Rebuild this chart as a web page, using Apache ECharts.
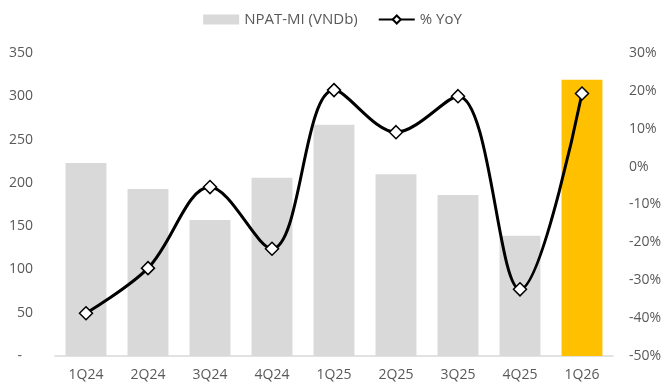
<!DOCTYPE html>
<html>
<head>
<meta charset="utf-8">
<script src="https://cdn.jsdelivr.net/npm/echarts@6/dist/echarts.min.js"></script>
<style>
  html, body { margin: 0; padding: 0; background: #fff; }
  #chart { width: 665px; height: 392px; }
</style>
</head>
<body>
<div id="chart"></div>
<script>
// Quarterly NPAT-MI (VND bn) with year-over-year growth
const quarters = ['1Q24', '2Q24', '3Q24', '4Q24', '1Q25', '2Q25', '3Q25', '4Q25', '1Q26'];
const npatMi = [223, 193, 157, 206, 267, 210, 186, 139, 319];
const yoyPct = [-38.7, -26.8, -5.4, -21.7, 20.2, 9.1, 18.6, -32.4, 19.3];
const leftTicks = { min: 0, max: 350, step: 50 };
const rightTicks = { min: -50, max: 30, step: 10 };

const FONT = 'Open Sans';
const LABEL_COLOR = '#595959';
const highlightIndex = quarters.length - 1;

const chart = echarts.init(document.getElementById('chart'), null, { renderer: 'canvas' });
chart.setOption({
  animation: false,
  textStyle: { fontFamily: FONT },
  legend: {
    top: 7,
    left: 'center',
    itemGap: 20,
    itemWidth: 36,
    itemHeight: 10,
    textStyle: { color: LABEL_COLOR, fontSize: 15, fontFamily: FONT },
    data: [
      { name: 'NPAT-MI (VNDb)', icon: 'rect' },
      { name: '% YoY' }
    ]
  },
  grid: { left: 55, right: 52, top: 53, bottom: 36, containLabel: false },
  xAxis: {
    type: 'category',
    data: quarters,
    axisLine: { lineStyle: { color: '#d9d9d9', width: 1.5 } },
    axisTick: { show: false },
    axisLabel: { color: LABEL_COLOR, fontSize: 14, margin: 12, fontFamily: FONT }
  },
  yAxis: [
    {
      type: 'value',
      min: leftTicks.min,
      max: leftTicks.max,
      interval: leftTicks.step,
      splitLine: { show: false },
      axisLine: { show: false },
      axisTick: { show: false },
      axisLabel: {
        color: LABEL_COLOR, fontSize: 14, margin: 22, fontFamily: FONT,
        formatter: v => (v === 0 ? '-   ' : String(v))
      }
    },
    {
      type: 'value',
      min: rightTicks.min,
      max: rightTicks.max,
      interval: rightTicks.step,
      splitLine: { show: false },
      axisLine: { show: false },
      axisTick: { show: false },
      axisLabel: {
        color: LABEL_COLOR, fontSize: 14, margin: 16, align: 'left', fontFamily: FONT,
        formatter: v => v + '%'
      }
    }
  ],
  series: [
    {
      name: 'NPAT-MI (VNDb)',
      type: 'bar',
      yAxisIndex: 0,
      barCategoryGap: '34%',
      itemStyle: { color: '#d9d9d9' },
      data: npatMi.map((v, i) => i === highlightIndex
        ? { value: v, itemStyle: { color: '#ffc000' } }
        : v)
    },
    {
      name: '% YoY',
      type: 'line',
      yAxisIndex: 1,
      smooth: 0.35,
      symbol: 'diamond',
      symbolSize: 13,
      lineStyle: { color: '#000', width: 3 },
      itemStyle: { color: '#fff', borderColor: '#000', borderWidth: 1.5 },
      data: yoyPct,
      z: 5
    }
  ]
});
</script>
</body>
</html>
